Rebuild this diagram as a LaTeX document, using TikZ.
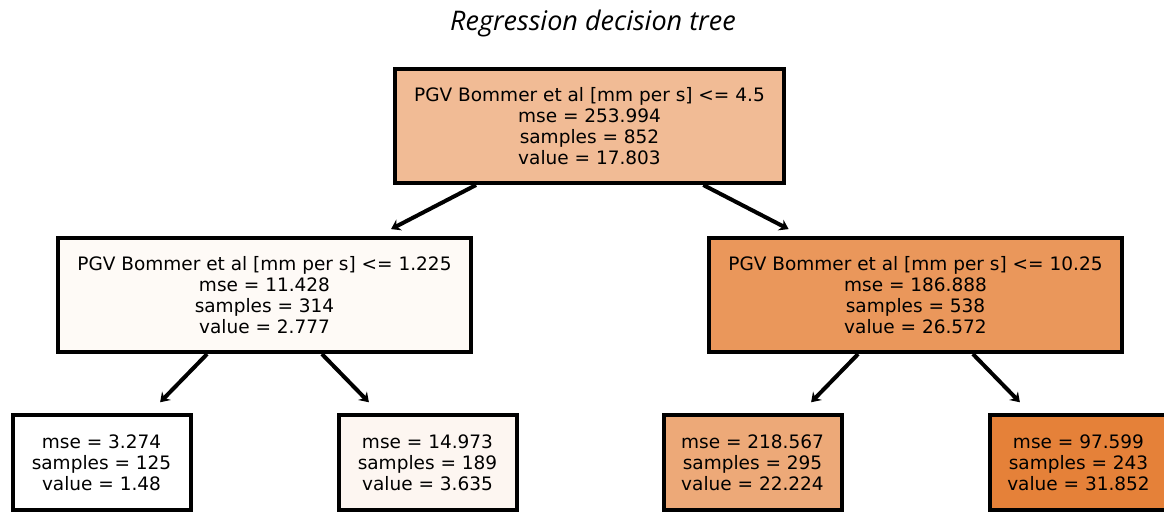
\documentclass[tikz,border=0pt]{standalone}
\usepackage{fontspec}
\setmainfont{DejaVu Sans}
\newfontfamily\titlefont{Open Sans}
\usetikzlibrary{arrows.meta,positioning}

\definecolor{rootfill}{RGB}{241,187,149}
\definecolor{lfill}{RGB}{254,250,246}
\definecolor{rfill}{RGB}{234,151,91}
\definecolor{llfill}{RGB}{255,255,255}
\definecolor{lrfill}{RGB}{253,246,241}
\definecolor{rlfill}{RGB}{237,169,120}
\definecolor{rrfill}{RGB}{229,129,57}

\begin{document}
\begin{tikzpicture}[x=1pt,y=-1pt,-{Stealth[length=9pt,width=12pt]},
                    line width=4pt,shorten >=15pt,
                    font=\fontsize{18.5}{21}\selectfont]
	  \tikzstyle{split}=[draw=black,line width=4pt,rectangle,align=center,
	                     minimum width=413pt,minimum height=114pt]
	  \tikzstyle{leaf}=[split,minimum width=178pt,minimum height=95pt]

	  \useasboundingbox (0,0) rectangle (1164,512);
	  \clip (0,0) rectangle (1164,512);

	  \node (title) at (593,23) {\titlefont\itshape\fontsize{27}{31}\selectfont Regression decision tree};

	  \node[split,fill=rootfill,minimum width=389pt] (root) at (589.5,126)
	        {PGV Bommer et al [mm per s] <= 4.5\\mse = 253.994\\samples = 852\\value = 17.803};
	  \node[split,fill=lfill,on grid,below left=169pt and 325pt of root]  (L)
	        {PGV Bommer et al [mm per s] <= 1.225\\mse = 11.428\\samples = 314\\value = 2.777};
	  \node[split,fill=rfill,on grid,below right=169pt and 326pt of root] (R)
	        {PGV Bommer et al [mm per s] <= 10.25\\mse = 186.888\\samples = 538\\value = 26.572};

	  \node[leaf,fill=llfill,on grid,below left=167.5pt and 163pt of L]  (LL)
	        {mse = 3.274\\samples = 125\\value = 1.48};
	  \node[leaf,fill=lrfill,on grid,below right=167.5pt and 163pt of L] (LR)
	        {mse = 14.973\\samples = 189\\value = 3.635};
	  \node[leaf,fill=rlfill,on grid,below left=167.5pt and 163pt of R]  (RL)
	        {mse = 218.567\\samples = 295\\value = 22.224};
	  \node[leaf,fill=rrfill,on grid,below right=167.5pt and 163pt of R] (RR)
	        {mse = 97.599\\samples = 243\\value = 31.852};

	  \path (root) edge (L) edge (R)
	  (L) edge (LL) edge (LR)
	  (R) edge (RL) edge (RR);
	\end{tikzpicture}
\end{document}
